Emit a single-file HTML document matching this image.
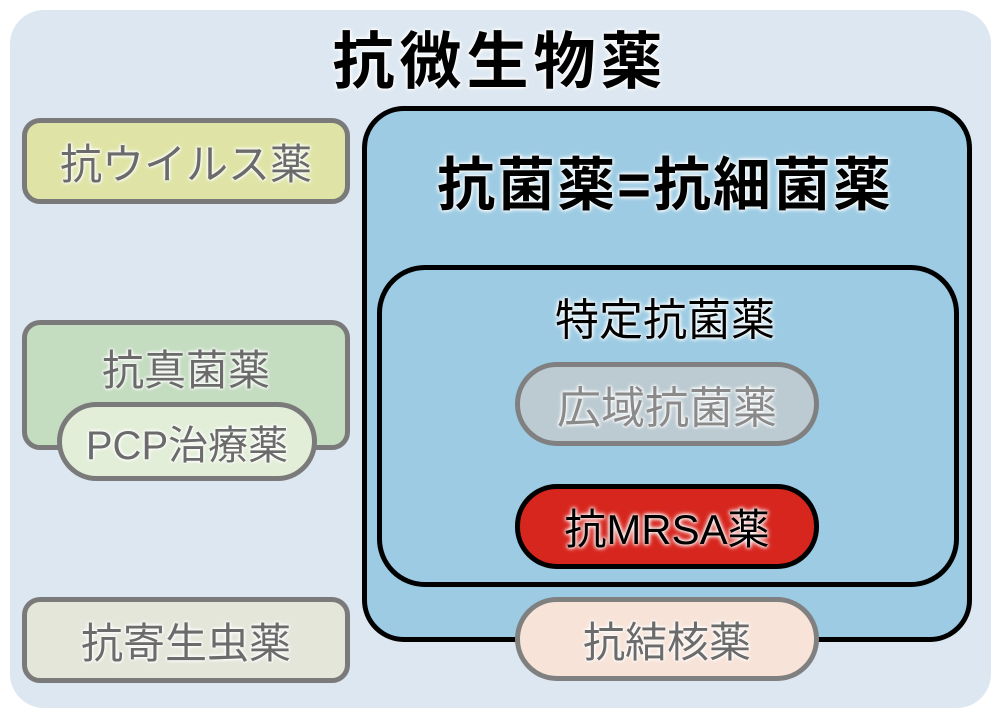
<!DOCTYPE html>
<html><head><meta charset="utf-8"><style>
html,body{margin:0;padding:0;background:#fff;}
body{width:1000px;height:717px;position:relative;overflow:hidden;font-family:"Liberation Sans","Noto Sans CJK JP",sans-serif;}
.a{position:absolute;box-sizing:border-box;display:flex;align-items:center;justify-content:center;white-space:nowrap;}
.g{color:#6b6b6b;text-shadow:0 0 3px #fff,0 0 3px #fff,0 0 5px #fff;}
.k{color:#000;font-weight:bold;text-shadow:0 0 3px #fff,0 0 4px #fff,0 0 6px #fff;}
.lb{border:5px solid #7a7a7a;border-radius:18px;font-size:42px;}
</style></head><body>
<div class="a" style="left:10px;top:10px;width:981px;height:698px;background:#dce7f1;border-radius:34px;"></div>
<div class="a k" style="left:300px;top:18px;width:400px;height:76px;font-size:62px;letter-spacing:5px;">抗微生物薬</div>

<div class="a lb g" style="left:22px;top:118px;width:328px;height:86px;background:#dfe4a6;">抗ウイルス薬</div>
<div class="a lb g" style="left:22px;top:320px;width:328px;height:130px;background:#c4dcc0;align-items:flex-start;padding-top:12px;">抗真菌薬</div>
<div class="a g" style="left:57px;top:402px;width:260px;height:79px;background:#e2eed8;border:5px solid #7a7a7a;border-radius:40px;font-size:40px;">PCP治療薬</div>
<div class="a lb g" style="left:22px;top:597px;width:328px;height:86px;background:#e4e6da;">抗寄生虫薬</div>

<div class="a" style="left:362px;top:106px;width:610px;height:536px;background:#9ccbe3;border:5px solid #000;border-radius:42px;"></div>
<div class="a k" style="left:380px;top:148px;width:570px;height:64px;font-size:58px;letter-spacing:2px;">抗菌薬=抗細菌薬</div>
<div class="a" style="left:377px;top:265px;width:582px;height:322px;border:5px solid #000;border-radius:48px;"></div>
<div class="a k" style="left:500px;top:292px;width:330px;height:48px;font-size:44px;font-weight:normal;">特定抗菌薬</div>
<div class="a g" style="left:515px;top:362px;width:304px;height:84px;background:#bccbd2;border:5px solid #808080;border-radius:42px;font-size:44px;color:#8a8a8a;">広域抗菌薬</div>
<div class="a k" style="left:515px;top:484px;width:304px;height:85px;background:#d7261e;border:5px solid #000;border-radius:42px;font-size:42px;font-weight:normal;">抗MRSA薬</div>
<div class="a g" style="left:515px;top:597px;width:304px;height:84px;background:#f7e3d8;border:5px solid #808080;border-radius:42px;font-size:42px;">抗結核薬</div>
</body></html>
